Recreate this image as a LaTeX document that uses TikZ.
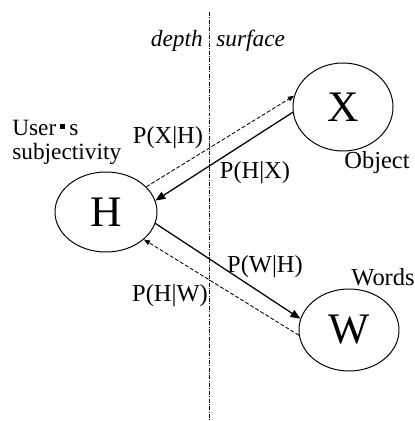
\documentclass[tikz,border=0pt]{standalone}
\usepackage{fontspec}
\setmainfont{Liberation Serif}
\usetikzlibrary{arrows.meta,positioning,shapes.geometric}

\begin{document}
\begin{tikzpicture}[
  var/.style={ellipse, draw, line width=0.7pt, inner sep=0pt, minimum width=2.5cm, font=\fontsize{31}{33}\selectfont},
  lbl/.style={inner sep=0pt, font=\fontsize{17.4}{18}\selectfont},
  fwd/.style={-{Triangle[length=7pt,width=5.6pt]}, line width=0.9pt},
  bwd/.style={-{Triangle[length=4.5pt,width=3.4pt]}, line width=0.6pt, dash pattern=on 2.8pt off 1.4pt},
]
  \useasboundingbox (0,0) rectangle (10.35,10.525);

  % depth / surface border
  \coordinate (top) at (5.225,10.225);
  \coordinate (bot) at (5.225,0);
  \draw[line width=0.6pt, dash pattern=on 2.8pt off 1pt on 0.7pt off 1pt] (top) -- (bot);
  \node[lbl, anchor=base east, font=\fontsize{16.6}{18}\selectfont\itshape] (depth) at (5.075,9.35) {depth};
  \node[lbl, anchor=base west, font=\fontsize{16.6}{18}\selectfont\itshape] (surf) at (5.4,9.35) {surface};

  \node[var, minimum width=2.55cm, minimum height=2.0cm] (H) at (2.65,5.225) {H};
  \node[var, minimum height=2.2cm] (X) at (8.575,7.85) {X};
  \node[var, minimum height=2.05cm] (W) at (8.725,2.275) {W};

  \node[lbl, anchor=base west, align=left, font=\fontsize{16.6}{17.6}\selectfont] (user) at (0.3,6.525) {User\,\rule[0.28em]{0.22em}{0.22em}\,s\\subjectivity};
  \node[lbl] (obj) at (9.425,6.45) {Object};
  \node[lbl] (words) at (9.575,3.6) {Words};

  \draw[bwd] (H.32) -- (X.167);
  \draw[fwd] (X.186) -- (H.13);
  \draw[fwd] (H.-13) -- (W.167);
  \draw[bwd] (W.186) -- (H.-36);

  \node[lbl] (pxh) at (4.2,7.075) {P(X|H)};
  \node[lbl] (phx) at (6.375,6.2) {P(H|X)};
  \node[lbl] (pwh) at (6.625,3.85) {P(W|H)};
  \node[lbl] (phw) at (4.25,3.125) {P(H|W)};
\end{tikzpicture}
\end{document}
